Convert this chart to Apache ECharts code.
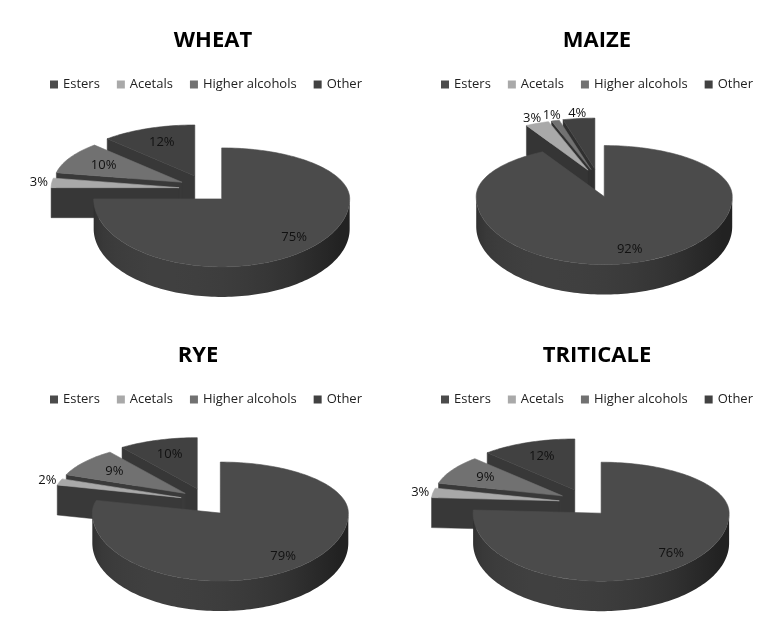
<!DOCTYPE html>
<html>
<head>
<meta charset="utf-8">
<title>Volatile compounds by cereal</title>
<script src="https://cdn.jsdelivr.net/npm/echarts@6/dist/echarts.min.js"></script>
<style>
    html, body { margin: 0; padding: 0; background: #fff; }
    #wrap { position: relative; width: 782px; height: 634px; }
    .cell { position: absolute; width: 391px; }
</style>
</head>
<body>
<div id="wrap">
    <div class="cell" id="chart-0" style="left:0;top:0;height:315px"></div>
    <div class="cell" id="chart-1" style="left:391px;top:0;height:315px"></div>
    <div class="cell" id="chart-2" style="left:0;top:315px;height:319px"></div>
    <div class="cell" id="chart-3" style="left:391px;top:315px;height:319px"></div>
</div>
<script>
// data (percent of total volatiles)
const categories = ['Esters', 'Acetals', 'Higher alcohols', 'Other'];
const cereals = ['WHEAT', 'MAIZE', 'RYE', 'TRITICALE'];
const wheatValues = [75, 3, 10, 12];
const maizeValues = [92, 3, 1, 4];
const ryeValues = [79, 2, 9, 10];
const triticaleValues = [76, 3, 9, 12];

const sliceColors = ['#4b4b4b', '#a9a9a9', '#717171', '#414141'];

// fake 3d pie geometry
const PIE = {
    rx: 128,
    ryBack: 51,
    ryFront: 68,
    depth: 30,
    explodeX: 25,
    explodeY: 14
};
// pie centre (before explode) and title centre for each chart
const PIE_CENTERS = [[204, 189], [207, 183], [205, 187], [193, 188]];
const TITLE_X = [213, 206, 198, 206];

const FONT = 'Open Sans';
const RAD = Math.PI / 180;

function shadeValue(nx, ny) {
    // light coming from front-left
    const d = Math.max(0, nx * -0.447 + ny * 0.894);
    return Math.round(34 + 30 * d);
}
function gray(g) {
    return 'rgb(' + g + ',' + g + ',' + g + ')';
}

function sliceRenderer(values, center, index) {
    const total = values.reduce((a, b) => a + b, 0);
    return function (params, api) {
        const v = api.value(0);
        let before = 0;
        for (let i = 0; i < index; i++) before += values[i];
        const a0 = before / total * 360;
        const a1 = (before + v) / total * 360;
        const mid = (a0 + a1) / 2 * RAD;

        const ax = center[0] + PIE.explodeX * Math.sin(mid);
        const ay = center[1] - PIE.explodeY * Math.cos(mid);
        const apex = [ax, ay];

        const pt = (deg, f) => {
            const t = deg * RAD;
            const c = Math.cos(t);
            const ry = c > 0 ? PIE.ryBack : PIE.ryFront;
            return [ax + f * PIE.rx * Math.sin(t), ay - f * ry * c];
        };
        const down = p => [p[0], p[1] + PIE.depth];
        const arcPoints = (from, to) => {
            const n = Math.max(2, Math.ceil((to - from) / 1.5));
            const out = [];
            for (let k = 0; k <= n; k++) out.push(pt(from + (to - from) * k / n, 1));
            return out;
        };

        const children = [];

        // outer rim: only the front half (90..270 deg) can be seen
        const r0 = Math.max(a0, 90);
        const r1 = Math.min(a1, 270);
        if (r1 > r0) {
            const top = arcPoints(r0, r1);
            const pts = top.concat(top.slice().reverse().map(down));
            const xa = top[0][0];
            const xb = top[top.length - 1][0];
            const stops = [];
            for (let k = 0; k <= 16; k++) {
                const deg = r0 + (r1 - r0) * k / 16;
                const t = deg * RAD;
                const p = pt(deg, 1);
                stops.push({
                    offset: Math.min(1, Math.max(0, (p[0] - xb) / (xa - xb))),
                    color: gray(shadeValue(Math.sin(t), -Math.cos(t)))
                });
            }
            stops.sort((s1, s2) => s1.offset - s2.offset);
            children.push({
                type: 'polygon',
                shape: { points: pts },
                style: {
                    fill: {
                        type: 'linear', global: true,
                        x: xb, y: 0, x2: xa, y2: 0,
                        colorStops: stops
                    }
                },
                z2: (ay + PIE.ryFront) / 100
            });
        }

        // flat cut faces
        const addFace = (edgePoint, nx, ny) => {
            const fill = gray(shadeValue(nx, ny) - 6);
            children.push({
                type: 'polygon',
                shape: { points: [apex, edgePoint, down(edgePoint), down(apex)] },
                style: { fill: fill, stroke: fill, lineWidth: 0.5 },
                z2: (ay + edgePoint[1]) / 200
            });
        };
        if (-Math.sin(a0 * RAD) > 0.01) {
            addFace(pt(a0, 1), -Math.cos(a0 * RAD), -Math.sin(a0 * RAD));
        }
        if (Math.sin(a1 * RAD) > 0.01) {
            addFace(pt(a1, 1), Math.cos(a1 * RAD), Math.sin(a1 * RAD));
        }

        // top face
        const color = api.visual('color');
        children.push({
            type: 'polygon',
            shape: { points: [apex].concat(arcPoints(a0, a1)) },
            style: { fill: color, stroke: color, lineWidth: 0.6 },
            z2: 10
        });

        // percentage label
        const f = v < 5 ? 1.1 : (v > 50 ? 0.8 : 0.7);
        const lp = pt((a0 + a1) / 2, f);
        children.push({
            type: 'text',
            x: lp[0],
            y: lp[1],
            style: {
                text: Math.round(v / total * 100) + '%',
                fill: '#111',
                fontFamily: FONT,
                fontSize: 13,
                align: 'center',
                verticalAlign: 'middle'
            },
            z2: 20
        });

        return { type: 'group', children: children };
    };
}

function makeChart(el, title, values, center, titleX) {
    const chart = echarts.init(el, null, { renderer: 'canvas' });
    chart.setOption({
        animation: false,
        title: {
            text: title,
            left: titleX,
            top: 30,
            padding: 0,
            textAlign: 'center',
            textStyle: {
                fontFamily: FONT,
                fontWeight: 'bold',
                fontSize: 22,
                color: '#000'
            }
        },
        legend: {
            data: categories,
            left: 45,
            top: 73,
            icon: 'rect',
            itemWidth: 8,
            itemHeight: 8,
            itemGap: 17,
            selectedMode: false,
            textStyle: {
                fontFamily: FONT,
                fontSize: 13,
                color: '#222'
            }
        },
        series: categories.map((name, i) => ({
            type: 'custom',
            name: name,
            coordinateSystem: 'none',
            silent: true,
            itemStyle: { color: sliceColors[i] },
            data: [[values[i]]],
            renderItem: sliceRenderer(values, center, i)
        }))
    });
    return chart;
}

const allValues = [wheatValues, maizeValues, ryeValues, triticaleValues];
cereals.forEach((name, i) => {
    makeChart(document.getElementById('chart-' + i), name, allValues[i],
        PIE_CENTERS[i], TITLE_X[i]);
});
</script>
</body>
</html>
